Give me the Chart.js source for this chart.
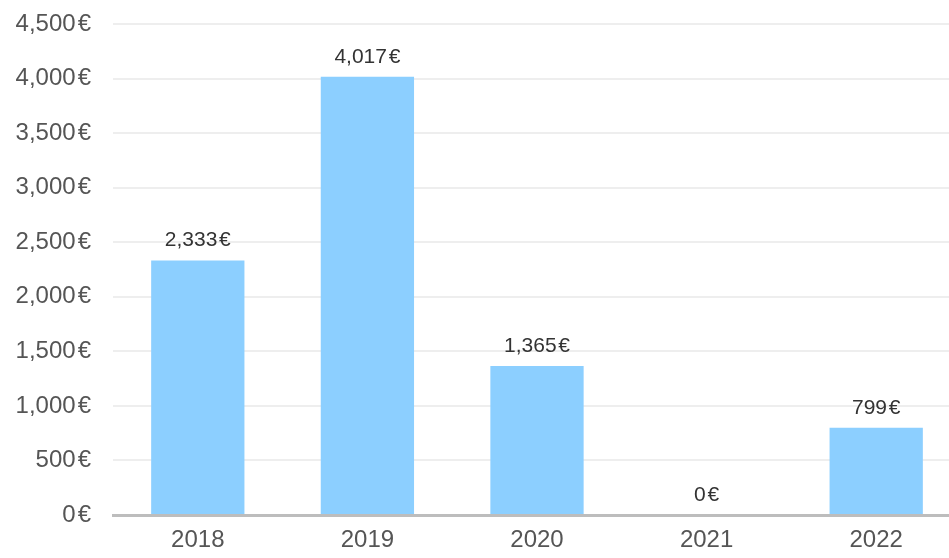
<!DOCTYPE html>
<html>
<head>
<meta charset="utf-8">
<script src="https://cdn.jsdelivr.net/npm/chart.js@4/dist/chart.umd.min.js"></script>
<style>
  html, body { margin: 0; padding: 0; background: #fff; overflow: hidden; }
  #outer { width: 949px; height: 558px; overflow: hidden; }
  #wrap { width: 961px; height: 558px; position: relative; }
</style>
</head>
<body>
<div id="outer"><div id="wrap"><canvas id="chart"></canvas></div></div>
<script>
const years = ['2018', '2019', '2020', '2021', '2022'];
const amounts = [2333, 4017, 1365, 0, 799];
const yTicks = [0, 500, 1000, 1500, 2000, 2500, 3000, 3500, 4000, 4500];

const fmt = v => v.toLocaleString('en-US') + '\u200A€';
const FONT = '"Liberation Sans", Arial, sans-serif';

// labels on top of bars
const barLabels = {
    id: 'barLabels',
    afterDatasetsDraw(chart) {
        const ctx = chart.ctx;
        const meta = chart.getDatasetMeta(0);
        ctx.save();
        ctx.font = '21px ' + FONT;
        ctx.fillStyle = '#333';
        ctx.textAlign = 'center';
        ctx.textBaseline = 'alphabetic';
        meta.data.forEach((bar, i) => {
            ctx.fillText(fmt(amounts[i]), bar.x, bar.y - 14);
        });
        ctx.restore();
    }
};

new Chart(document.getElementById('chart'), {
    type: 'bar',
    data: {
        labels: years,
        datasets: [{
            data: amounts,
            backgroundColor: '#8ccfff',
            borderWidth: 0,
            categoryPercentage: 1,
            barPercentage: 0.55
        }]
    },
    options: {
        responsive: true,
        maintainAspectRatio: false,
        animation: false,
        layout: { padding: 0 },
        plugins: { legend: { display: false }, tooltip: { enabled: false } },
        scales: {
            x: {
                grid: { display: false, drawTicks: false },
                border: { color: '#bdbdbd', width: 3 },
                ticks: {
                    color: '#555',
                    font: { size: 24, family: FONT },
                    padding: 11
                },
                afterFit(s) { s.height = 43; }
            },
            y: {
                min: 0,
                max: 4500,
                afterBuildTicks(s) { s.ticks = yTicks.map(v => ({ value: v })); },
                grid: { color: '#eeeeee', lineWidth: 2, drawTicks: false },
                border: { display: false },
                ticks: {
                    color: '#555',
                    font: { size: 24, family: FONT },
                    padding: 22,
                    callback: v => fmt(v)
                },
                afterFit(s) { s.width = 113; s.paddingTop = 24; }
            }
        }
    },
    plugins: [barLabels]
});
</script>
</body>
</html>
